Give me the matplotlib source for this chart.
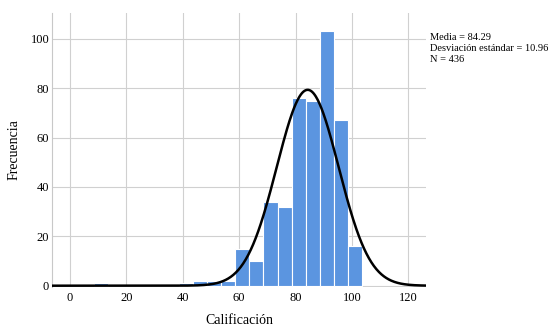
import numpy as np
import matplotlib
matplotlib.use("Agg")
import matplotlib.pyplot as plt

# Histogram data (bin left edges, width 5)
bin_lefts = [8.6, 38.6, 43.6, 48.6, 53.6, 58.6, 63.6, 68.6, 73.6, 78.6, 83.6, 88.6, 93.6, 98.6]
counts = [1, 1, 2, 2, 2, 15, 10, 34, 32, 76, 75, 103, 67, 16]
bin_width = 5.0
mean = 84.29
std = 10.96
n = 436

xticks = [0, 20, 40, 60, 80, 100, 120]
yticks = [0, 20, 40, 60, 80, 100]

serif = ['Liberation Serif', 'DejaVu Serif']

fig = plt.figure(figsize=(5.49, 3.26), dpi=100)
ax = fig.add_axes([0.0947, 0.1206, 0.682, 0.839])

ax.bar(bin_lefts, counts, width=bin_width, align='edge', color='#5b95e0',
       edgecolor='white', linewidth=0.8, zorder=2)

xs = np.linspace(-6.4, 126.4, 600)
pdf = n * bin_width / (std * np.sqrt(2 * np.pi)) * np.exp(-0.5 * ((xs - mean) / std) ** 2)
ax.plot(xs, pdf, color='black', linewidth=1.8, zorder=3)

ax.set_xlim(-6.4, 126.4)
ax.set_ylim(-0.4, 110.4)
ax.set_xticks(xticks)
ax.set_yticks(yticks)
ax.grid(True, color='#d0d0d0', linewidth=0.8, zorder=0)
ax.set_axisbelow(True)
for s in ['top', 'right', 'bottom']:
    ax.spines[s].set_visible(False)
ax.spines['left'].set_color('#c8c8c8')
ax.spines['left'].set_linewidth(0.8)
ax.tick_params(axis='y', length=0, pad=2)
ax.tick_params(axis='x', length=0, pad=4)
for lab in ax.get_xticklabels() + ax.get_yticklabels():
    lab.set_fontfamily(serif)
    lab.set_fontsize(9)
ax.set_xlabel('Calificación', fontfamily=serif, fontsize=10, labelpad=7)
ax.set_ylabel('Frecuencia', fontfamily=serif, fontsize=10, labelpad=7)

fig.text(430 / 549, 1 - 33 / 326,
         'Media = 84.29\nDesviación estándar = 10.96\nN = 436',
         fontfamily=serif, fontsize=7.5, va='top', ha='left', linespacing=1.3)

fig.savefig('out.png', dpi=100)
